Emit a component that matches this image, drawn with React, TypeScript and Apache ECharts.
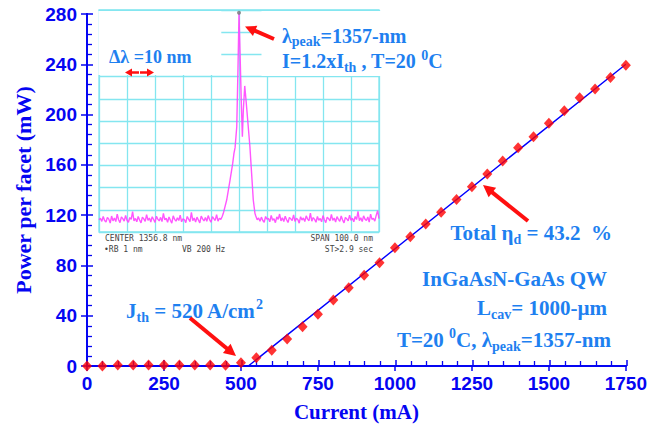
import React, { useEffect, useRef } from "react";
import * as echarts from "echarts";

// ---- main L-I data ----
const currentMa = [0, 50, 100, 150, 200, 250, 300, 350, 400, 450, 500, 550, 600, 650, 700, 750, 800, 850, 900, 950, 1000, 1050, 1100, 1150, 1200, 1250, 1300, 1350, 1400, 1450, 1500, 1550, 1600, 1650, 1700, 1750];
const powerMw = [0, 0, 0.8, 0.8, 0.8, 0.8, 0.8, 0.8, 0.8, 0.5, 2.6, 6.6, 12.5, 21.5, 31.3, 41.1, 52.5, 62.3, 72.2, 82.2, 94.1, 102.9, 113, 122.3, 132.5, 142.6, 152.7, 163, 173.7, 182.4, 193, 203, 213.4, 220.4, 229.4, 239.2];
const fitCurrentMa = [0, 524, 1750];
const fitPowerMw = [0, 0, 240];

// ---- inset spectrum (offset from 1356.8 nm centre, level in divisions) ----
const noiseLeftStartNm = -50;
const noiseRightStartNm = 6;
const noiseStepNm = 0.5;
const noiseLeft = [
  0.55, 0.62, 0.48, 0.70, 0.52, 0.45, 0.66, 0.58, 0.40, 0.72,
  0.50, 0.63, 0.47, 0.80, 0.55, 0.42, 0.68, 0.60, 0.49, 0.75,
  0.53, 0.44, 0.65, 0.57, 0.92, 0.50, 0.61, 0.46, 0.70, 0.54,
  0.41, 0.67, 0.59, 0.48, 0.78, 0.52, 0.63, 0.45, 0.69, 0.56,
  0.43, 0.71, 0.58, 0.50, 0.66, 0.47, 0.84, 0.55, 0.62, 0.44,
  0.68, 0.53, 0.40, 0.73, 0.57, 0.49, 0.64, 0.52, 0.76, 0.46,
  0.60, 0.55, 0.42, 0.70, 0.58, 0.47, 0.88, 0.51, 0.63, 0.45,
  0.67, 0.54, 0.41, 0.72, 0.59, 0.50, 0.65, 0.48, 0.74, 0.56,
  0.44, 0.69, 0.60, 0.52, 0.78, 0.49, 0.62, 0.57, 0.70,
];
const noiseRight = [
  0.72, 0.55, 0.63, 0.48, 0.67, 0.52, 0.44, 0.70, 0.58, 0.61,
  0.46, 0.75, 0.53, 0.60, 0.42, 0.68, 0.57, 0.81, 0.50, 0.64,
  0.47, 0.71, 0.55, 0.43, 0.66, 0.59, 0.52, 0.77, 0.48, 0.62,
  0.56, 0.40, 0.69, 0.54, 0.63, 0.47, 0.73, 0.58, 0.51, 0.85,
  0.49, 0.65, 0.57, 0.44, 0.70, 0.53, 0.61, 0.46, 0.74, 0.55,
  0.42, 0.67, 0.60, 0.50, 0.79, 0.52, 0.63, 0.45, 0.69, 0.57,
  0.48, 0.72, 0.54, 0.41, 0.66, 0.59, 0.50, 0.76, 0.53, 0.62,
  0.46, 0.70, 0.56, 0.93, 0.51, 0.64, 0.47, 0.73, 0.58, 0.52,
  0.68, 0.45, 0.80, 0.57, 0.62, 0.49, 0.75, 0.96, 0.60,
];
const peakOffsetNm = [-5.6, -4.4, -3.2, -2.25, -1.8, -1.4, -0.8, -0.35, 0, 0.35, 0.8, 1.2, 1.55, 2.05, 2.5, 3.2, 3.9, 4.5, 5.1, 5.7];
const peakLevel = [0.84, 1.44, 2.34, 3.09, 3.54, 3.8, 4.74, 7.45, 9.88, 8.2, 5.95, 4.29, 5.5, 6.58, 5.95, 4.9, 3.84, 2.64, 1.44, 0.84];

const AXIS_BLUE = "#0505f2";
const TEXT_BLUE = "#1e80f0";
const RED = "#ff1010";
const CYAN = "#84e6f0";
const SERIF = '"Liberation Serif", "Times New Roman", serif';
const SANS = '"Liberation Sans", Arial, sans-serif';
const MONO = '"DejaVu Sans Mono", monospace';

function arrow(x1: number, y1: number, x2: number, y2: number, w: number, hl: number, hw: number, z: number) {
  const dx = x2 - x1, dy = y2 - y1;
  const L = Math.hypot(dx, dy);
  const ux = dx / L, uy = dy / L;
  const px = -uy, py = ux;
  const bx = x2 - ux * hl, by = y2 - uy * hl;
  return [
    { type: "line", silent: true, z, shape: { x1, y1, x2: bx + ux, y2: by + uy }, style: { stroke: RED, lineWidth: w } },
    { type: "polygon", silent: true, z, shape: { points: [[x2, y2], [bx + (px * hw) / 2, by + (py * hw) / 2], [bx - (px * hw) / 2, by - (py * hw) / 2]] }, style: { fill: RED } },
  ];
}

function richText(x: number, y: number, text: string, size: number, align: string, z = 9) {
  const sub = { fontSize: Math.round(size * 0.68), fontFamily: SERIF, fontWeight: "bold", fill: TEXT_BLUE, verticalAlign: "bottom" };
  const sup = { fontSize: Math.round(size * 0.68), fontFamily: SERIF, fontWeight: "bold", fill: TEXT_BLUE, verticalAlign: "top" };
  return {
    type: "text",
    silent: true,
    z,
    x,
    y,
    style: {
      text,
      fill: TEXT_BLUE,
      fontSize: size,
      fontFamily: SERIF,
      fontWeight: "bold",
      lineHeight: Math.round(size * 1.3),
      align,
      textAlign: align,
      verticalAlign: "middle",
      textVerticalAlign: "middle",
      rich: { sub, sup },
    },
  };
}

function monoText(x: number, y: number, text: string, align: string) {
  return {
    type: "text",
    silent: true,
    z: 9,
    x,
    y,
    style: { text, fill: "#444", fontSize: 8, fontFamily: MONO, align, textAlign: align, verticalAlign: "middle", textVerticalAlign: "middle" },
  };
}

export default function App() {
  const ref = useRef<HTMLDivElement>(null);
  useEffect(() => {
    const chart = echarts.init(ref.current!, null, { renderer: "svg" });

    const mainPoints = currentMa.map((c, i) => [c, powerMw[i]]);
    const fitLine = fitCurrentMa.map((c, i) => [c, fitPowerMw[i]]);
    const spectrum: number[][] = [];
    noiseLeft.forEach((v, i) => spectrum.push([noiseLeftStartNm + i * noiseStepNm, v]));
    peakOffsetNm.forEach((o, i) => spectrum.push([o, peakLevel[i]]));
    noiseRight.forEach((v, i) => spectrum.push([noiseRightStartNm + i * noiseStepNm, v]));
    const peakIdx = peakLevel.indexOf(Math.max(...peakLevel));

    const lineOnlyAxis = { axisTick: { show: false }, axisLabel: { show: false }, splitLine: { show: false } };
    const mainGrid = { left: 87, right: 23, top: 14, bottom: 61 };

    const option: any = {
      animation: false,
      backgroundColor: "#ffffff",
      grid: [
        { ...mainGrid },
        { left: 99, top: 10, width: 280, height: 222, show: true, borderColor: CYAN, borderWidth: 1.3, backgroundColor: "transparent", z: 4 },
        { ...mainGrid },
      ],
      xAxis: [
        {
          type: "value", gridIndex: 0, min: 0, max: 1750, interval: 250, position: "bottom",
          axisLine: { lineStyle: { color: AXIS_BLUE, width: 2 } },
          axisTick: { show: true, inside: false, length: 5, lineStyle: { color: AXIS_BLUE, width: 1.5 } },
          axisLabel: { color: AXIS_BLUE, fontSize: 19, fontWeight: "bold", fontFamily: SANS, margin: 8, formatter: (v: number) => String(v) },
          splitLine: { show: false },
          name: "Current (mA)", nameLocation: "middle", nameGap: 35,
          nameTextStyle: { color: AXIS_BLUE, fontSize: 21, fontWeight: "bold", fontFamily: SERIF },
        },
        { type: "value", gridIndex: 0, min: 0, max: 1750, position: "top", axisLine: { lineStyle: { color: AXIS_BLUE, width: 2 } }, ...lineOnlyAxis },
        {
          type: "value", gridIndex: 1, min: -50, max: 50, interval: 10, z: 4,
          axisLine: { show: false }, axisTick: { show: false }, axisLabel: { show: false },
          splitLine: { show: true, lineStyle: { color: CYAN, width: 1.3 } },
        },
        {
          type: "value", gridIndex: 2, min: 0, max: 1750, interval: 250, position: "bottom",
          axisLine: { show: false },
          axisTick: { show: true, inside: true, length: 6, lineStyle: { color: AXIS_BLUE, width: 1.5 } },
          minorTick: { show: true, splitNumber: 5, length: 5, lineStyle: { color: AXIS_BLUE, width: 1.3 } },
          axisLabel: { show: false }, splitLine: { show: false },
        },
      ],
      yAxis: [
        {
          type: "value", gridIndex: 0, min: 0, max: 280, interval: 40, position: "left",
          axisLine: { show: true, lineStyle: { color: AXIS_BLUE, width: 2 } },
          axisTick: { show: true, inside: false, length: 6, lineStyle: { color: AXIS_BLUE, width: 1.5 } },
          axisLabel: { color: AXIS_BLUE, fontSize: 19, fontWeight: "bold", fontFamily: SANS, margin: 10 },
          splitLine: { show: false },
          name: "Power per facet (mW)", nameLocation: "middle", nameGap: 53,
          nameTextStyle: { color: AXIS_BLUE, fontSize: 22, fontWeight: "bold", fontFamily: SERIF },
        },
        { type: "value", gridIndex: 0, min: 0, max: 280, position: "right", axisLine: { show: true, lineStyle: { color: AXIS_BLUE, width: 2 } }, ...lineOnlyAxis },
        {
          type: "value", gridIndex: 1, min: 0, max: 10, interval: 1, z: 4,
          axisLine: { show: false }, axisTick: { show: false }, axisLabel: { show: false },
          splitLine: { show: true, lineStyle: { color: CYAN, width: 1.3 } },
        },
        {
          type: "value", gridIndex: 2, min: 0, max: 280, interval: 40, position: "left",
          axisLine: { show: false },
          axisTick: { show: true, inside: true, length: 6, lineStyle: { color: AXIS_BLUE, width: 1.5 } },
          minorTick: { show: true, splitNumber: 5, length: 5, lineStyle: { color: AXIS_BLUE, width: 1.3 } },
          axisLabel: { show: false }, splitLine: { show: false },
        },
      ],
      series: [
        {
          type: "line", xAxisIndex: 0, yAxisIndex: 0, data: fitLine, symbol: "none", z: 2,
          lineStyle: { color: "#0000ff", width: 1.4 },
        },
        {
          type: "scatter", xAxisIndex: 0, yAxisIndex: 0, data: mainPoints, symbol: "diamond", symbolSize: [10, 11], z: 3,
          itemStyle: { color: "#ff0000" },
        },
        {
          type: "line", xAxisIndex: 2, yAxisIndex: 2, data: spectrum, symbol: "none", z: 5,
          lineStyle: { color: "#ff44ff", width: 1.4, opacity: 0.9 },
        },
        {
          type: "scatter", xAxisIndex: 2, yAxisIndex: 2, data: [[peakOffsetNm[peakIdx], peakLevel[peakIdx]]], symbolSize: 4, z: 6,
          itemStyle: { color: "#777" },
        },
      ],
      graphic: {
        elements: [
          // white background of the inset picture
          { type: "rect", silent: true, z: 3, shape: { x: 95, y: 0, width: 287, height: 258 }, style: { fill: "#fff" } },
          // white text boxes overlapping the inset
          { type: "rect", silent: true, z: 7, shape: { x: 98.3, y: 11, width: 123, height: 64 }, style: { fill: "#fff" } },
          { type: "rect", silent: true, z: 7, shape: { x: 261.5, y: 11, width: 229, height: 65 }, style: { fill: "#fff" } },
          // inset instrument texts
          monoText(105, 238.5, "CENTER 1356.8 nm", "left"),
          monoText(373, 238.5, "SPAN 100.0 nm", "right"),
          monoText(104, 249.5, "\u2022RB 1 nm", "left"),
          monoText(182, 249.5, "VB 200 Hz", "left"),
          monoText(373, 249.5, "ST>2.9 sec", "right"),
          // annotations
          richText(109, 56.5, "\u0394\u03bb =10 nm", 18, "left"),
          richText(282, 35.5, "\u03bb{sub|peak}=1357-nm", 20, "left"),
          richText(282, 61, "I=1.2xI{sub|th} , T=20 {sup|0}C", 20, "left"),
          richText(126, 311, "J{sub|th} = 520 A/cm{sup|2}", 21, "left"),
          richText(612, 233, "Total \u03b7{sub|d} = 43.2  %", 21, "right"),
          richText(607, 279, "InGaAsN-GaAs QW", 21, "right"),
          richText(607, 308, "L{sub|cav}= 1000-\u00b5m", 21, "right"),
          richText(611, 340, "T=20 {sup|0}C, \u03bb{sub|peak}=1357-nm", 21, "right"),
          // arrows
          ...arrow(274, 39, 245, 26.5, 4, 11, 11, 9),
          ...arrow(190, 318, 236, 356, 4, 12, 12, 9),
          ...arrow(528, 221, 483, 185, 4, 12, 12, 9),
          ...arrow(139, 72.5, 125, 72.5, 2.5, 7, 8, 9),
          ...arrow(140, 72.5, 154, 72.5, 2.5, 7, 8, 9),
        ],
      },
    };
    chart.setOption(option);
    return () => chart.dispose();
  }, []);
  return <div ref={ref} style={{ position: "fixed", left: 0, top: 0, width: 650, height: 427 }} />;
}
